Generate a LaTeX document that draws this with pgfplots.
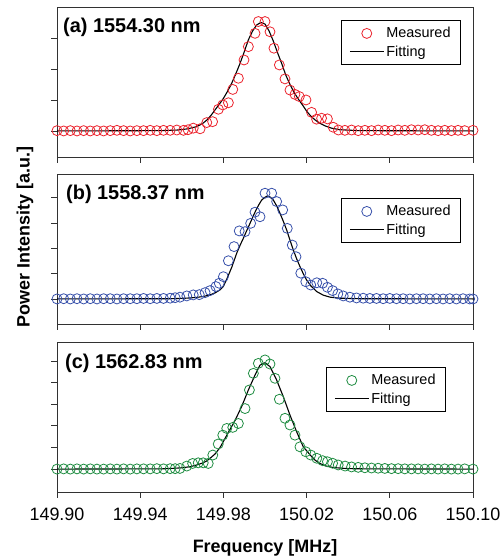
\documentclass[border=0pt]{standalone}
\usepackage{pgfplots}
\pgfplotsset{compat=1.18}
\usepackage{fontspec}
\setmainfont{Liberation Sans}
\definecolor{mred}{RGB}{235,35,45}
\definecolor{mblue}{RGB}{55,80,170}
\definecolor{mgreen}{RGB}{30,140,65}
\definecolor{axgray}{RGB}{50,50,50}
\pgfplotsset{
  panel/.style={
    scale only axis, width=416bp, height=150bp, anchor=south west,
    xmin=-100, xmax=100, clip=false,
    xtick={-100,-60,-20,20,60,100},
    tick align=outside, major tick length=6bp,
    xtick pos=bottom, ytick pos=left,
    yticklabels={},
    axis line style={axgray, line width=0.9bp},
    tick style={axgray, line width=0.9bp},
    legend style={at={(1,1)}, anchor=north east, xshift=-12bp, yshift=-13bp,
      draw=black, line width=0.9bp, font=\fontsize{14.5}{16}\selectfont,
      inner xsep=8bp, inner ysep=5bp, row sep=2.5bp},
    legend cell align=left,
  },
  meas/.style={only marks, mark=o, mark size=5bp, line width=0.8bp, color=#1,
    legend image code/.code={\draw[mark repeat=2,mark phase=2,##1] plot coordinates {(0bp,0bp)(17bp,0bp)(34bp,0bp)};}},
  fit/.style={black, line width=1.1bp, no marks,
    legend image code/.code={\draw[##1] (0bp,0bp) -- (34bp,0bp);}},
}
\begin{document}
\begin{tikzpicture}[x=1bp,y=1bp]
\useasboundingbox (0,0) rectangle (503,559);
% ---------------- (a)
\begin{axis}[panel, at={(57bp,402bp)}, ymin=-0.84, ymax=4.0, ytick={0,1,2,3}, xticklabels={}]
\addplot[meas=mred] coordinates {
(-100,0.01)(-96.8,0)(-93.6,0.01)(-90.4,0)(-87.2,0.01)(-84,0)(-80.8,0.01)(-77.6,0)(-74.4,0.01)(-71.2,0.02)
(-68,0.01)(-64.8,0)(-61.6,0.01)(-58.4,0.01)(-55.2,0.02)(-52,0.01)(-48.8,0.02)(-45.6,0.02)(-42.4,0.03)(-39.2,0.02)
(-37,0.04)(-34.5,0.09)(-31.2,0.07)(-28,0.27)(-25.2,0.30)(-22.4,0.70)(-20.3,0.84)(-17.6,0.91)(-15.5,1.34)(-12.8,1.70)
(-10.1,2.29)(-8,2.72)(-4.8,3.15)(-3.2,3.53)(0,3.53)(2.4,3.20)(4.3,2.67)(6.9,2.13)(9.6,1.68)(12,1.32)
(14.4,1.18)(16.5,1.11)(19.7,1.00)(22.4,0.60)(24.8,0.38)(27.2,0.41)(30,0.39)(32.8,0.12)(35.3,0.03)(38.4,0.02)
(41.6,0.03)(44.8,0.01)(48,0.02)(51.2,0.01)(54.4,0.03)(57.6,0.02)(60.8,0.01)(64,0.03)(67.2,0.02)(70.4,0.04)
(73.6,0.03)(76.8,0.04)(80,0.02)(83.2,0.01)(86.4,0.02)(89.6,0.01)(92.8,0.02)(96,0.01)(100,0.02)
};
\addlegendentry{Measured}
\addplot[fit] coordinates {
(-100,0)(-50,0.01)(-42,0.03)(-37,0.07)(-32.8,0.14)(-30,0.24)(-28,0.35)(-26,0.50)(-24,0.68)(-22,0.86)
(-20,1.05)(-18,1.28)(-16,1.54)(-14,1.85)(-12,2.18)(-10,2.55)(-8,2.94)(-6,3.22)(-4,3.42)(-2,3.50)
(0,3.45)(2,3.22)(4,2.90)(6,2.53)(8,2.18)(10,1.80)(12,1.50)(14,1.24)(16,1.03)(18,0.84)
(20,0.64)(22,0.48)(24,0.36)(26,0.26)(29,0.16)(32,0.09)(36,0.04)(45,0.01)(100,0)
};
\addlegendentry{Fitting}
\node[anchor=base west, font=\bfseries\fontsize{20}{20}\selectfont, inner sep=0pt, xshift=6bp, yshift=-26bp] at (rel axis cs:0,1) {(a) 1554.30 nm};
\end{axis}
% ---------------- (b)
\begin{axis}[panel, at={(57bp,235bp)}, ymin=-0.99, ymax=4.94, ytick={0,1,2,3,4}, xticklabels={},
  legend style={yshift=-11bp}]
\addplot[meas=mblue] coordinates {
(-100,0)(-96.8,0.01)(-93.6,0)(-90.4,0.01)(-87.2,0)(-84,0.01)(-80.8,0)(-77.6,0.01)(-74.4,0.01)(-71.2,0)
(-68,0.01)(-64.8,0.01)(-61.6,0.01)(-58.4,0.02)(-55.2,0.01)(-52,0.02)(-48.8,0.02)(-45.6,0.03)(-43.2,0.05)
(-40.9,0.07)(-37.6,0.12)(-34.5,0.16)(-31.6,0.17)(-28.8,0.25)(-26.4,0.33)(-23.6,0.49)(-22,0.62)(-20,0.88)
(-17.6,1.51)(-14.9,2.07)(-12.4,2.69)(-9.6,2.66)(-6.9,2.99)(-4.8,3.43)(-2.4,3.25)(0,4.18)(3.2,4.18)
(5.6,3.85)(8.5,3.52)(10.7,2.79)(13.1,2.13)(14.9,1.67)(17.2,1.02)(19.6,0.68)(22,0.55)(24.9,0.64)
(27.7,0.62)(30,0.46)(32.5,0.33)(35,0.20)(37.6,0.12)(40.8,0.07)(44,0.04)(47.2,0.03)(50.4,0.02)
(53.6,0.02)(56.8,0.01)(60,0.02)(63.2,0.01)(66.4,0.01)(69.6,0)(72.8,0.01)(76,0.01)(79.2,0)(82.4,0.01)
(85.6,0)(88.8,0.01)(92,0)(95.2,0.01)(98.4,0)(100,0)
};
\addlegendentry{Measured}
\addplot[fit] coordinates {
(-100,0)(-45,0.01)(-38,0.03)(-33,0.06)(-29.5,0.10)(-26.4,0.16)(-24,0.24)(-21.6,0.36)(-20,0.50)(-18.4,0.78)
(-16,1.25)(-13.6,1.81)(-12,2.12)(-10.4,2.40)(-8.8,2.70)(-7.2,2.99)(-5.8,3.25)(-4.3,3.52)(-3,3.72)(-1.6,3.91)
(0,4.02)(1.1,4.07)(2.5,4.03)(4,3.91)(5.6,3.68)(7.2,3.39)(8.8,3.07)(10.4,2.73)(12,2.33)(13.6,1.94)
(15.2,1.59)(16.8,1.28)(18.4,1.00)(20,0.75)(22,0.52)(24.9,0.29)(28,0.15)(31.3,0.07)(36,0.03)(45,0.01)(100,0)
};
\addlegendentry{Fitting}
\node[anchor=base west, font=\bfseries\fontsize{20}{20}\selectfont, inner sep=0pt, xshift=9bp, yshift=-26bp] at (rel axis cs:0,1) {(b) 1558.37 nm};
\end{axis}
% ---------------- (c)
\begin{axis}[panel, at={(57bp,67bp)}, ymin=-1.06, ymax=5.88, ytick={0,1,2,3,4,5},
  xticklabels={149.90,149.94,149.98,150.02,150.06,150.10},
  xticklabel style={font=\fontsize{18}{18}\selectfont, anchor=base, yshift=-23bp},
  legend style={xshift=-15bp, yshift=-12bp}]
\addplot[meas=mgreen] coordinates {
(-100,0)(-96.8,0.01)(-93.6,0)(-90.4,0.01)(-87.2,0)(-84,0.01)(-80.8,0)(-77.6,0)(-74.4,0.01)(-71.2,0)
(-68,0.01)(-64.8,0)(-61.6,0.01)(-58.4,0.01)(-55.2,0.01)(-52,0.02)(-48.8,0.01)(-45.6,0.02)(-43.2,0.02)
(-40.9,0.03)(-37.6,0.14)(-34.8,0.26)(-32.1,0.29)(-29.7,0.29)(-27.3,0.26)(-25.1,0.65)(-22.5,1.16)(-20.3,1.57)
(-18.4,1.88)(-15.5,1.93)(-12.8,2.11)(-9.6,2.80)(-7.5,3.66)(-5.6,4.43)(-3.2,4.89)(0,5.05)(2.4,4.86)
(4.8,4.20)(6.9,3.23)(9.6,2.35)(12,2.04)(14.4,1.57)(16.8,1.03)(19.6,0.80)(22,0.65)(24.9,0.50)
(27.7,0.39)(30,0.34)(32.5,0.27)(35.2,0.19)(38.5,0.14)(41.6,0.10)(44.8,0.08)(48,0.06)(51.2,0.05)
(54.4,0.04)(57.6,0.03)(60.8,0.02)(64,0.02)(67.2,0.01)(70.4,0.01)(73.6,0.01)(76.8,0)(80,0.01)(83.2,0)
(86.4,0.01)(89.6,0)(92.8,0)(96,0.01)(100,0)
};
\addlegendentry{Measured}
\addplot[fit] coordinates {
(-100,0)(-50,0.01)(-45,0.03)(-40,0.06)(-36,0.11)(-32.8,0.19)(-30,0.28)(-28,0.38)(-26.4,0.50)(-24,0.70)
(-21.6,1.00)(-19.6,1.35)(-17.6,1.70)(-14.4,2.25)(-11.2,2.90)(-8,3.66)(-4.8,4.35)(-2.4,4.81)(0,4.92)(2.4,4.74)
(5.6,4.12)(8.8,3.35)(12,2.50)(15.2,1.73)(18.4,1.03)(20,0.85)(22,0.62)(24,0.42)(26,0.28)(29,0.15)
(33,0.07)(40,0.02)(50,0.01)(100,0)
};
\addlegendentry{Fitting}
\node[anchor=base west, font=\bfseries\fontsize{20}{20}\selectfont, inner sep=0pt, xshift=8bp, yshift=-27bp] at (rel axis cs:0,1) {(c) 1562.83 nm};
\end{axis}
\node[rotate=90, anchor=center, font=\bfseries\fontsize{18}{18}\selectfont] at (25bp,322bp) {Power Intensity [a.u.]};
\node[anchor=base, font=\bfseries\fontsize{18}{18}\selectfont] at (265bp,6bp) {Frequency [MHz]};
\end{tikzpicture}
\end{document}
